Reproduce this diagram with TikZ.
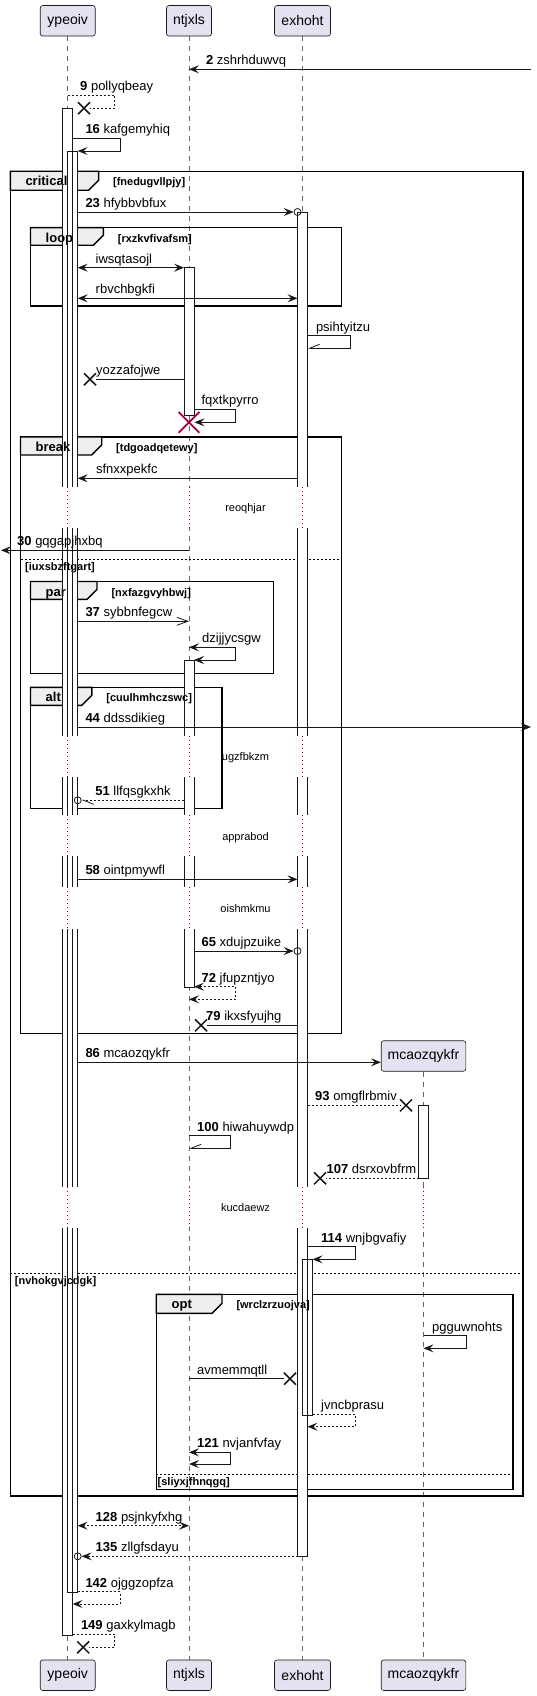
\documentclass[tikz,border=0pt]{standalone}
\usepackage{fontspec}
\setmainfont{Liberation Sans}
\usetikzlibrary{arrows.meta,shapes.misc}
\definecolor{lc}{HTML}{181818}
\definecolor{boxfill}{HTML}{E2E2F0}
\definecolor{tabfill}{HTML}{EEEEEE}
\definecolor{delayc}{HTML}{A80036}
\pgfdeclarelayer{layA}
\pgfdeclarelayer{layB}
\pgfsetlayers{layA,layB,main}
\newcommand\sqfill[4]{\begin{pgfonlayer}{layB}\fill[white] (#1,#3) rectangle (#2,#4);\end{pgfonlayer}}
\newcommand\sqtop[4]{\sqfill{#1}{#2}{#3}{#4}\draw[barl] (#1,#4) -- (#1,#3) -- (#2,#3) -- (#2,#4);}
\newcommand\sqbot[4]{\sqfill{#1}{#2}{#3}{#4}\draw[barl] (#1,#3) -- (#1,#4) -- (#2,#4) -- (#2,#3);}
\newcommand\sqmid[4]{\sqfill{#1}{#2}{#3}{#4}\draw[barl] (#1,#3) -- (#1,#4) (#2,#3) -- (#2,#4);}
\newcommand\sqfull[4]{\sqfill{#1}{#2}{#3}{#4}\draw[barl] (#1,#3) rectangle (#2,#4);}
\newcommand\dlyseg[3]{\fill[white] (#1-2.5,#2) rectangle (#1+2.5,#3);\draw[dlyl] (#1,#2) -- (#1,#3);}
\newcommand\dlyall[2]{\dlyseg{67.7}{#1}{#2}\dlyseg{189}{#1}{#2}\dlyseg{302.5}{#1}{#2}}
\newcommand\abars[5]{\sqmid{#1}{#2}{527.7}{735.7}\sqmid{#1}{#2}{777.3}{815.3}\sqmid{#1}{#2}{856.3}{887.3}\sqmid{#1}{#2}{929.3}{1186.7}}
\begin{document}
\begin{tikzpicture}[x=1pt,y=-1pt,
  >={Stealth[length=10pt,width=8pt,inset=4pt]},
  pbox/.style={draw=lc, fill=boxfill, rounded corners=2.5pt, line width=0.6pt, minimum height=30.5pt, inner sep=0pt, font=\fontsize{14}{16}\selectfont},
  lifel/.style={draw=black!60, line width=0.7pt, dash pattern=on 5pt off 5pt},
  dlyl/.style={draw=delayc, line width=0.9pt, dash pattern=on 1pt off 3pt},
  barl/.style={draw=lc, line width=0.8pt},
  frm/.style={draw=black, line width=1.4pt},
  tabs/.style={draw=black, fill=tabfill, line width=1.4pt},
  sepl/.style={draw=black, line width=0.8pt, dash pattern=on 2pt off 2pt},
  ml/.style={draw=lc, line width=0.8pt},
  dsh/.style={dash pattern=on 2pt off 2pt},
  lbl/.style={anchor=base west, inner sep=0pt, font=\fontsize{13}{15}\selectfont},
  dtxt/.style={anchor=base, inner sep=0pt, font=\fontsize{11}{13}\selectfont},
  ftitle/.style={anchor=base west, inner sep=0pt, font=\bfseries\fontsize{13}{15}\selectfont},
  fguard/.style={anchor=base west, inner sep=0pt, font=\bfseries\fontsize{11}{13}\selectfont},
  xm/.style={cross out, draw=lc, line width=1.5pt, minimum size=10.5pt, inner sep=0pt},
  oc/.style={circle, draw=lc, line width=0.8pt, minimum size=7pt, inner sep=0pt},
  openarr/.style={-{Straight Barb[length=11pt,width=8pt]}},
  halfup/.style={-{Straight Barb[length=10pt,width=8pt,right]}},
  halfdn/.style={-{Straight Barb[length=10pt,width=8pt,left]}},
]
\useasboundingbox (0,0) rectangle (536,1696);

% participants
\node[pbox, minimum width=55pt] (pa) at (67.7,20.8) {ypeoiv};
\node[pbox, minimum width=45pt] (pb) at (189,20.8) {ntjxls};
\node[pbox, minimum width=56pt] (pc) at (302.5,20.8) {exhoht};
\node[pbox, minimum width=84.6pt] (pd) at (423.5,1056) {mcaozqykfr};
\node[pbox, minimum width=55pt] (pa2) at (67.7,1675.2) {ypeoiv};
\node[pbox, minimum width=45pt] (pb2) at (189,1675.2) {ntjxls};
\node[pbox, minimum width=56pt] (pc2) at (302.5,1675.2) {exhoht};
\node[pbox, minimum width=84.6pt] (pd2) at (423.5,1675.2) {mcaozqykfr};

\begin{pgfonlayer}{layA}
\draw[lifel] (pa.south) -- (pa2.north);
\draw[lifel] (pb.south) -- (pb2.north);
\draw[lifel] (pc.south) -- (pc2.north);
\draw[lifel] (pd.south) -- (pd2.north);
\dlyall{486.7}{527.7}
\dlyall{735.7}{777.3}
\dlyall{815.3}{856.3}
\dlyall{887.3}{929.3}
\dlyall{1186.7}{1228.3}
\dlyseg{423.5}{1186.7}{1228.3}
% frames
\draw[frm] (10.3,171.3) rectangle (522.9,1496);
\draw[tabs] (10.3,171.3) -- (98.6,171.3) -- (98.6,180.3) -- (88.6,190.3) -- (10.3,190.3) -- cycle;
\draw[sepl] (10.3,1273.3) -- (522.9,1273.3);
\draw[frm] (30.5,227.7) rectangle (341.4,306);
\draw[tabs] (30.5,227.7) -- (103.4,227.7) -- (103.4,235.3) -- (93.4,245.3) -- (30.5,245.3) -- cycle;
\draw[frm] (20.5,437) rectangle (341.4,1033.3);
\draw[tabs] (20.5,437) -- (101.7,437) -- (101.7,445) -- (91.7,455) -- (20.5,455) -- cycle;
\draw[sepl] (20.5,559) -- (341.4,559);
\draw[frm] (30.5,581.5) rectangle (273.3,673.3);
\draw[tabs] (30.5,581.5) -- (97,581.5) -- (97,589.3) -- (87,599.3) -- (30.5,599.3) -- cycle;
\draw[frm] (30.5,687.3) rectangle (222,808.3);
\draw[tabs] (30.5,687.3) -- (91.8,687.3) -- (91.8,695.3) -- (81.8,705.3) -- (30.5,705.3) -- cycle;
\draw[frm] (156.2,1294.3) rectangle (513,1489.3);
\draw[tabs] (156.2,1294.3) -- (222,1294.3) -- (222,1303.3) -- (212,1313.3) -- (156.2,1313.3) -- cycle;
\draw[sepl] (156.2,1474) -- (513,1474);
\end{pgfonlayer}

% frame texts
\node[ftitle] (f1) at (25.3,185.8) {critical};
\node[fguard] (g1) at (112.9,185.8) {[fnedugvllpjy]};
\node[fguard] (g1b) at (14.7,1284.5) {[nvhokgvjcdgk]};
\node[ftitle] (f2) at (45.5,242.2) {loop};
\node[fguard] (g2) at (117.7,242.2) {[rxzkvfivafsm]};
\node[ftitle] (f3) at (35.5,451.5) {break};
\node[fguard] (g3) at (116,451.5) {[tdgoadqetewy]};
\node[fguard] (g3b) at (25,570.5) {[iuxsbzftgart]};
\node[ftitle] (f4) at (45.5,596) {par};
\node[fguard] (g4) at (111.3,596) {[nxfazgvyhbwj]};
\node[ftitle] (f5) at (45.5,701.8) {alt};
\node[fguard] (g5) at (106.2,701.8) {[cuulhmhczswc]};
\node[ftitle] (f6) at (171.5,1308.8) {opt};
\node[fguard] (g6) at (236.3,1308.8) {[wrclzrzuojva]};
\node[fguard] (g6b) at (157.5,1485) {[sliyxjfhnqgq]};

% delay texts
\node[dtxt] (d1) at (245.5,511.2) {reoqhjar};
\node[dtxt] (d2) at (245.5,760.5) {ugzfbkzm};
\node[dtxt] (d3) at (245.5,840) {apprabod};
\node[dtxt] (d4) at (245.5,912.3) {oishmkmu};
\node[dtxt] (d5) at (245.5,1211.5) {kucdaewz};

% activation bars
\sqtop{62.7}{72.7}{108}{486.7}
\abars{62.7}{72.7}{}{}{}
\sqbot{62.7}{72.7}{1228.3}{1635}
\sqtop{67.7}{77.7}{151}{486.7}
\abars{67.7}{77.7}{}{}{}
\sqbot{67.7}{77.7}{1228.3}{1592.3}
\sqfull{184}{194}{267.7}{415.7}
\sqtop{184}{194}{660}{735.7}
\sqmid{184}{194}{777.3}{815.3}
\sqmid{184}{194}{856.3}{887.3}
\sqbot{184}{194}{929.3}{987.3}
\sqtop{297.5}{307.5}{212}{486.7}
\abars{297.5}{307.5}{}{}{}
\sqbot{297.5}{307.5}{1228.3}{1556}
\sqfull{302.5}{312.5}{1259.3}{1415.3}
\sqfull{418.5}{428.5}{1105.3}{1178.3}

% messages
\coordinate (m2s) at (531,69.3); \coordinate (m2e) at (189,69.3);
\draw[ml,->] (m2s) -- (m2e);
\node[lbl] (t2) at (205.8,64.8) {\textbf{2} zshrhduwvq};

\coordinate (m9s) at (67.7,95.3); \node[xm] (x9) at (84,108.2) {};
\draw[ml,dsh] (m9s) -- (114.7,95.3) -- (114.7,108.2) -- (x9);
\node[lbl] (t9) at (80,90.8) {\textbf{9} pollyqbeay};

\coordinate (m16s) at (72.7,138.3); \coordinate (m16e) at (77.7,151);
\draw[ml,->] (m16s) -- (119.9,138.3) -- (119.9,151) -- (m16e);
\node[lbl] (t16) at (85.3,133.8) {\textbf{16} kafgemyhiq};

\coordinate (m23s) at (77.7,212); \node[oc] (c23) at (297.5,212) {};
\draw[ml,->] (m23s) -- (c23);
\node[lbl] (t23) at (85.3,207.5) {\textbf{23} hfybbvbfux};

\coordinate (m24s) at (77.7,267.7); \coordinate (m24e) at (184,267.7);
\draw[ml,<->] (m24s) -- (m24e);
\node[lbl] (t24) at (95.5,263.2) {iwsqtasojl};

\coordinate (m25s) at (77.7,298.3); \coordinate (m25e) at (297.5,298.3);
\draw[ml,<->] (m25s) -- (m25e);
\node[lbl] (t25) at (95.5,293.8) {rbvchbgkfi};

\coordinate (m26s) at (307.5,335.7); \coordinate (m26e) at (307.5,348.3);
\draw[ml,halfup] (m26s) -- (350,335.7) -- (350,348.3) -- (m26e);
\node[lbl] (t26) at (315.8,331.2) {psihtyitzu};

\coordinate (m27s) at (184,379.3); \node[xm] (x27) at (90,379.3) {};
\draw[ml] (m27s) -- (x27);
\node[lbl] (t27) at (95.9,374.8) {yozzafojwe};

\coordinate (m28s) at (194,409.3); \coordinate (m28e) at (194.5,422.3);
\draw[ml,->] (m28s) -- (235.6,409.3) -- (235.6,422.3) -- (m28e);
\node[lbl] (t28) at (201.4,404.8) {fqxtkpyrro};
\node[cross out, draw=delayc, line width=1.8pt, minimum size=19pt, inner sep=0pt] (xd) at (189,422.3) {};

\coordinate (m29s) at (297.5,478.3); \coordinate (m29e) at (77.7,478.3);
\draw[ml,->] (m29s) -- (m29e);
\node[lbl] (t29) at (95.9,473.8) {sfnxxpekfc};

\coordinate (m30s) at (189,550.3); \coordinate (m30e) at (1,550.3);
\draw[ml,->] (m30s) -- (m30e);
\node[lbl] (t30) at (17,545.8) {\textbf{30} gqgapjhxbq};

\coordinate (m37s) at (77.7,621.3); \coordinate (m37e) at (189,621.3);
\draw[ml,openarr] (m37s) -- (m37e);
\node[lbl] (t37) at (85.3,616.8) {\textbf{37} sybbnfegcw};

\coordinate (m38s) at (189,647.3); \coordinate (m38e) at (194,660);
\draw[ml,<->] (m38s) -- (235.6,647.3) -- (235.6,660) -- (m38e);
\node[lbl] (t38) at (202,642.8) {dzijjycsgw};

\coordinate (m44s) at (77.7,727); \coordinate (m44e) at (531,727);
\draw[ml,->] (m44s) -- (m44e);
\node[lbl] (t44) at (85.3,722.5) {\textbf{44} ddssdikieg};

\coordinate (m51s) at (184,800.3); \node[oc] (c51) at (77.7,800.3) {};
\draw[ml,dsh,halfdn] (m51s) -- (c51);
\node[lbl] (t51) at (95.2,795.8) {\textbf{51} llfqsgkxhk};

\coordinate (m58s) at (77.7,879.3); \coordinate (m58e) at (297.5,879.3);
\draw[ml,->] (m58s) -- (m58e);
\node[lbl] (t58) at (85.3,874.8) {\textbf{58} ointpmywfl};

\coordinate (m65s) at (194,951); \node[oc] (c65) at (297.5,951) {};
\draw[ml,->] (m65s) -- (c65);
\node[lbl] (t65) at (201.4,946.5) {\textbf{65} xdujpzuike};

\coordinate (m72s) at (194,986.7); \coordinate (m72e) at (189,999.3);
\draw[ml,dsh,<->] (m72s) -- (235.6,986.7) -- (235.6,999.3) -- (m72e);
\node[lbl] (t72) at (201.4,982.2) {\textbf{72} jfupzntjyo};

\coordinate (m79s) at (297.5,1025.3); \node[xm] (x79) at (201,1025.3) {};
\draw[ml] (m79s) -- (x79);
\node[lbl] (t79) at (206,1020.8) {\textbf{79} ikxsfyujhg};

\coordinate (m86s) at (77.7,1062.3);
\draw[ml,->] (m86s) -- (m86s -| pd.west);
\node[lbl] (t86) at (85.3,1057.8) {\textbf{86} mcaozqykfr};

\coordinate (m93s) at (307.5,1105.3); \node[xm] (x93) at (406,1105.3) {};
\draw[ml,dsh] (m93s) -- (x93);
\node[lbl] (t93) at (315,1100.8) {\textbf{93} omgflrbmiv};

\coordinate (m100s) at (189,1135.7); \coordinate (m100e) at (189,1148.3);
\draw[ml,halfup] (m100s) -- (230.8,1135.7) -- (230.8,1148.3) -- (m100e);
\node[lbl] (t100) at (197,1131.2) {\textbf{100} hiwahuywdp};

\coordinate (m107s) at (418.5,1178.3); \node[xm] (x107) at (320,1178.3) {};
\draw[ml,dsh] (m107s) -- (x107);
\node[lbl] (t107) at (326.4,1173.8) {\textbf{107} dsrxovbfrm};

\coordinate (m114s) at (307.5,1246.7); \coordinate (m114e) at (312.5,1259.3);
\draw[ml,->] (m114s) -- (355,1246.7) -- (355,1259.3) -- (m114e);
\node[lbl] (t114) at (321,1242.2) {\textbf{114} wnjbgvafiy};

\coordinate (m115s) at (423.5,1335.7); \coordinate (m115e) at (423.5,1348.3);
\draw[ml,->] (m115s) -- (466,1335.7) -- (466,1348.3) -- (m115e);
\node[lbl] (t115) at (432,1331.2) {pgguwnohts};

\coordinate (m116s) at (189,1378.7); \node[xm] (x116) at (290,1378.7) {};
\draw[ml] (m116s) -- (x116);
\node[lbl] (t116) at (197,1374.2) {avmemmqtll};

\coordinate (m117s) at (312.5,1414.3); \coordinate (m117e) at (307.5,1426.7);
\draw[ml,dsh,->] (m117s) -- (355,1414.3) -- (355,1426.7) -- (m117e);
\node[lbl] (t117) at (321,1409.8) {jvncbprasu};

\coordinate (m121s) at (189,1452.3); \coordinate (m121e) at (189,1464);
\draw[ml,<->] (m121s) -- (230.8,1452.3) -- (230.8,1464) -- (m121e);
\node[lbl] (t121) at (197,1447.8) {\textbf{121} nvjanfvfay};

\coordinate (m128s) at (77.7,1525.7); \coordinate (m128e) at (189,1525.7);
\draw[ml,dsh,<->] (m128s) -- (m128e);
\node[lbl] (t128) at (95.5,1521.2) {\textbf{128} psjnkyfxhg};

\coordinate (m135s) at (297.5,1556.3); \node[oc] (c135) at (77.7,1556.3) {};
\draw[ml,dsh,->] (m135s) -- (c135);
\node[lbl] (t135) at (95.5,1551.8) {\textbf{135} zllgfsdayu};

\coordinate (m142s) at (77.7,1591.7); \coordinate (m142e) at (72.7,1604);
\draw[ml,dsh,->] (m142s) -- (119.9,1591.7) -- (119.9,1604) -- (m142e);
\node[lbl] (t142) at (85.3,1587.2) {\textbf{142} ojggzopfza};

\coordinate (m149s) at (72.7,1634.3); \node[xm] (x149) at (83.2,1647.3) {};
\draw[ml,dsh] (m149s) -- (114.7,1634.3) -- (114.7,1647.3) -- (x149);
\node[lbl] (t149) at (80.8,1629.8) {\textbf{149} gaxkylmagb};
\end{tikzpicture}
\end{document}
